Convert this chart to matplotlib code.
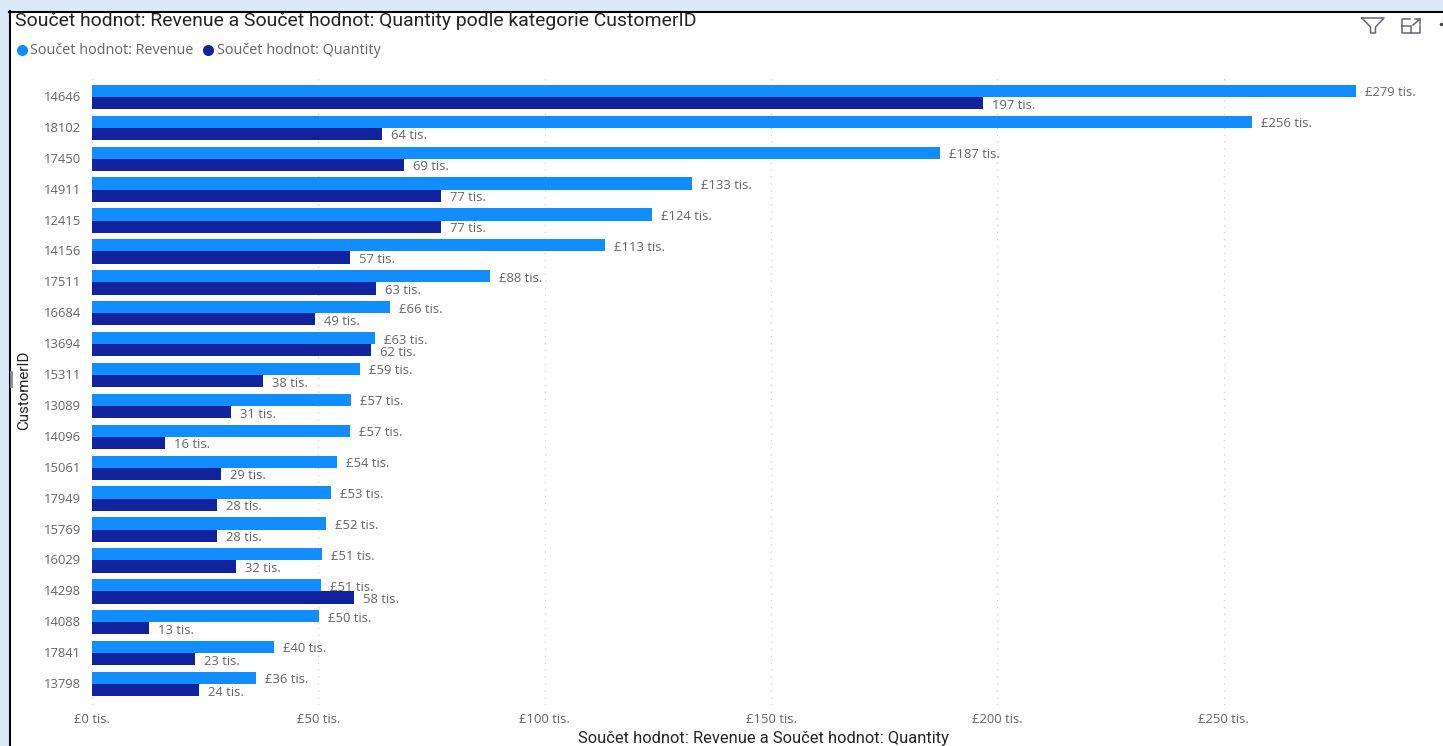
import matplotlib
matplotlib.use("Agg")
import matplotlib.pyplot as plt
from matplotlib.lines import Line2D
from matplotlib.patches import Rectangle
from matplotlib.transforms import ScaledTranslation

customer_ids = ["14646", "18102", "17450", "14911", "12415", "14156", "17511", "16684", "13694", "15311",
                "13089", "14096", "15061", "17949", "15769", "16029", "14298", "14088", "17841", "13798"]
revenue = [279.2, 256.2, 187.3, 132.6, 123.6, 113.2, 88.0, 65.8, 62.6, 59.2,
           57.3, 57.0, 54.1, 52.7, 51.6, 50.9, 50.6, 50.2, 40.1, 36.3]
quantity = [196.7, 64.0, 69.0, 77.0, 77.0, 56.9, 62.8, 49.2, 61.6, 37.7,
            30.6, 16.2, 28.6, 27.6, 27.7, 31.9, 57.8, 12.6, 22.7, 23.6]
x_ticks = [0, 50, 100, 150, 200, 250]

REV_COLOR = "#118dff"
QTY_COLOR = "#12239e"
TEXT_GREY = "#666666"
TITLE_FONT = ["Roboto", "DejaVu Sans"]
W, H = 1443, 746

plt.rcParams["font.family"] = ["Open Sans", "DejaVu Sans"]
fig = plt.figure(figsize=(W / 100, H / 100), dpi=100, facecolor="white")


# helper so the frame and icons can be placed in screen pixels
def px(x, y):
    return x / W, 1 - y / H


ax = fig.add_axes([92 / W, 1 - 705 / H, (W - 92) / W, (705 - 75) / H])
y = list(range(len(customer_ids)))
bar_h = 0.395
ax.barh([i - bar_h / 2 for i in y], revenue, height=bar_h, color=REV_COLOR)
ax.barh([i + bar_h / 2 for i in y], quantity, height=bar_h, color=QTY_COLOR)

for i in y:
    ax.annotate(f"£{revenue[i]:.0f} tis.", (revenue[i], i - bar_h / 2), xytext=(9, -2),
                textcoords="offset pixels", va="center", fontsize=9.4, color=TEXT_GREY)
    ax.annotate(f"{quantity[i]:.0f} tis.", (quantity[i], i + bar_h / 2), xytext=(9, -2),
                textcoords="offset pixels", va="center", fontsize=9.4, color=TEXT_GREY)

ax.set_xlim(0, 298.4)
ax.set_ylim(19.68, -0.71)
ax.set_yticks(y)
ax.set_yticklabels(customer_ids, fontsize=9.4, color=TEXT_GREY)
ax.set_xticks(x_ticks)
ax.set_xticklabels([f"£{v} tis." for v in x_ticks], fontsize=9.4, color=TEXT_GREY)
ax.tick_params(length=0)
ax.tick_params(axis="y", pad=8)
ax.tick_params(axis="x", pad=6)
# customer ids sit one pixel higher than the bar centres
for lbl in ax.get_yticklabels():
    lbl.set_transform(lbl.get_transform() + ScaledTranslation(0, 1 / 100, fig.dpi_scale_trans))
ax.grid(axis="x", color="#d4d4d4", linestyle=(0, (1, 4)), linewidth=1)
ax.set_axisbelow(True)
for s in ax.spines.values():
    s.set_visible(False)
ax.patch.set_alpha(0)

# light blue report background and black visual frame
fig.patches.append(Rectangle((0, 0), 9 / W, 1, transform=fig.transFigure, color="#dce9f6", zorder=-1))
fig.patches.append(Rectangle(px(0, 11), 1, 11 / H, transform=fig.transFigure, color="#dce9f6", zorder=-1))
fig.add_artist(Line2D([9.5 / W, 9.5 / W], [0, 1 - 11 / H], color="black", lw=1.5))
fig.add_artist(Line2D([9 / W, 1], [1 - 11.5 / H, 1 - 11.5 / H], color="black", lw=1.5))
fig.add_artist(Line2D([11 / W, 11 / W], [1 - 372 / H, 1 - 386 / H], color="#888888", lw=2))

# title, legend and axis titles
fig.text(*px(15, 21.5), "Součet hodnot: Revenue a Součet hodnot: Quantity podle kategorie CustomerID",
         fontsize=13.95, family=TITLE_FONT, color="#252423", va="center")
for cx, col in [(22, REV_COLOR), (208, QTY_COLOR)]:
    fig.add_artist(Line2D([cx / W], [1 - 49.5 / H], marker="o", markersize=8, color=col, markeredgewidth=0))
fig.text(*px(30, 50), "Součet hodnot: Revenue", fontsize=10.4, color=TEXT_GREY, va="center")
fig.text(*px(217, 50), "Součet hodnot: Quantity", fontsize=10.4, color=TEXT_GREY, va="center")
fig.text(*px(763, 739), "Součet hodnot: Revenue a Součet hodnot: Quantity", fontsize=11.9,
         family=TITLE_FONT, color="#252423", ha="center", va="center")
fig.text(*px(24, 390), "CustomerID", fontsize=10.9, family=TITLE_FONT, color="#252423",
         rotation=90, ha="center", va="center")


# toolbar icons
def icon(xs, ys):
    fig.add_artist(Line2D([a / W for a in xs], [1 - b / H for b in ys], color="#6b6470", lw=1.1))


icon([1362, 1384, 1375.5, 1375.5, 1370.5, 1370.5, 1362], [18, 18, 27, 33, 33, 27, 18])
icon([1410, 1402, 1402, 1420, 1420], [18.5, 18.5, 33, 33, 26])
icon([1402, 1411, 1411], [26, 26, 33])
icon([1413, 1420], [25, 19])
icon([1415, 1420, 1420], [19, 19, 24])
fig.add_artist(Line2D([1441 / W], [1 - 24 / H], marker="o", markersize=2.5, color="#444444", markeredgewidth=0))

fig.savefig("out.png", dpi=100)
